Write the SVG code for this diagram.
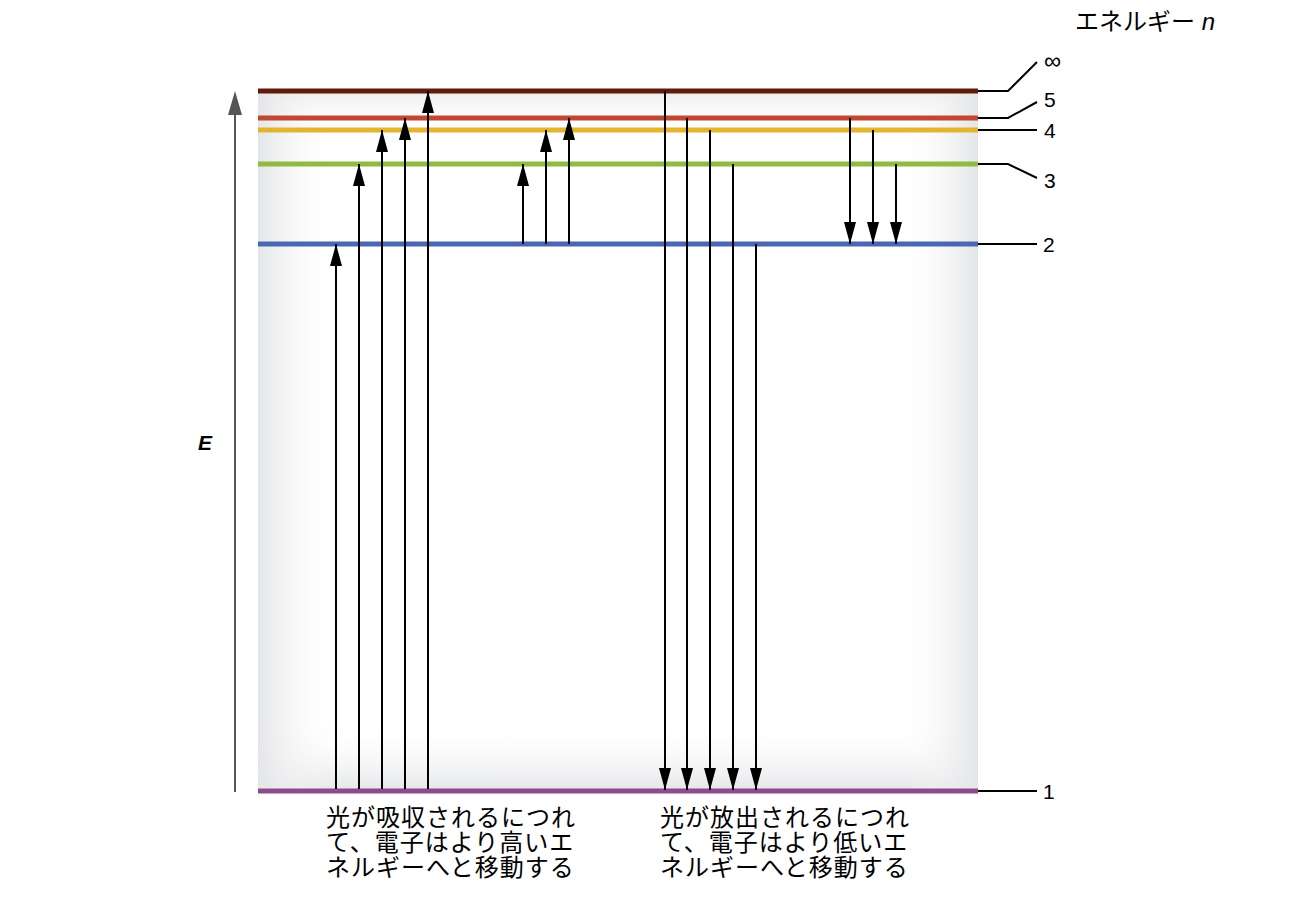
<svg xmlns="http://www.w3.org/2000/svg" width="1300" height="900" viewBox="0 0 1300 900">
<defs>
<linearGradient id="gh" x1="0" y1="0" x2="1" y2="0">
<stop offset="0" stop-color="#e4e5e7"/>
<stop offset="0.1" stop-color="#fafafa" stop-opacity="0"/>
<stop offset="0.9" stop-color="#fafafa" stop-opacity="0"/>
<stop offset="1" stop-color="#e4e5e7"/>
</linearGradient>
<linearGradient id="gv" x1="0" y1="0" x2="0" y2="1">
<stop offset="0" stop-color="#e8e9ea"/>
<stop offset="0.06" stop-color="#ffffff" stop-opacity="0"/>
<stop offset="0.9" stop-color="#ffffff" stop-opacity="0"/>
<stop offset="1" stop-color="#e4e5e7"/>
</linearGradient>
<marker id="ah" markerWidth="22" markerHeight="12" refX="22" refY="6" orient="auto" markerUnits="userSpaceOnUse" viewBox="0 0 22 12">
<path d="M0,0 L22,6 L0,12 Z" fill="#000"/>
</marker>
</defs>
<style>
.t{font-family:"Liberation Sans","Noto Sans CJK JP",sans-serif;fill:#000}
.lbl{font-size:21px}
.cap{font-size:24px;letter-spacing:1px}
.tick{stroke:#000;stroke-width:2;fill:none}
.ar{stroke:#000;stroke-width:2;marker-end:url(#ah)}
.lv{stroke-width:5}
</style>

<g id="panel">
<rect x="258" y="89" width="720" height="703" fill="#ffffff"/>
<rect x="258" y="89" width="720" height="703" fill="url(#gv)"/>
<rect x="258" y="89" width="720" height="703" fill="url(#gh)"/>
</g>

<g id="axis">
<line x1="235" y1="792" x2="235" y2="110" stroke="#555" stroke-width="2"/>
<path d="M235,91 L242,115 L228,115 Z" fill="#555"/>
<text class="t" x="205" y="450" font-size="21" font-weight="bold" font-style="italic" text-anchor="middle">E</text>
</g>

<g id="levels">
<g id="level-inf"><line class="lv" x1="258" y1="91" x2="978" y2="91" stroke="#5f1a08"/></g>
<g id="level-5"><line class="lv" x1="258" y1="118" x2="978" y2="118" stroke="#c1482f"/></g>
<g id="level-4"><line class="lv" x1="258" y1="130" x2="978" y2="130" stroke="#e2b52c"/></g>
<g id="level-3"><line class="lv" x1="258" y1="164" x2="978" y2="164" stroke="#8fbb41"/></g>
<g id="level-2"><line class="lv" x1="258" y1="244" x2="978" y2="244" stroke="#4a67b1"/></g>
<g id="level-1"><line class="lv" x1="258" y1="791" x2="978" y2="791" stroke="#8e4b8c"/></g>
</g>

<g id="connectors">
<line class="ar" x1="336" y1="789" x2="336" y2="244"/>
<line class="ar" x1="359" y1="789" x2="359" y2="164"/>
<line class="ar" x1="382" y1="789" x2="382" y2="130"/>
<line class="ar" x1="405" y1="789" x2="405" y2="118"/>
<line class="ar" x1="428" y1="789" x2="428" y2="91"/>
<line class="ar" x1="523" y1="244" x2="523" y2="164"/>
<line class="ar" x1="546" y1="244" x2="546" y2="130"/>
<line class="ar" x1="569" y1="244" x2="569" y2="118"/>
<line class="ar" x1="665" y1="91" x2="665" y2="790"/>
<line class="ar" x1="687" y1="118" x2="687" y2="790"/>
<line class="ar" x1="710" y1="130" x2="710" y2="790"/>
<line class="ar" x1="733" y1="164" x2="733" y2="790"/>
<line class="ar" x1="756" y1="244" x2="756" y2="790"/>
<line class="ar" x1="850" y1="118" x2="850" y2="244"/>
<line class="ar" x1="873" y1="130" x2="873" y2="244"/>
<line class="ar" x1="896" y1="164" x2="896" y2="244"/>
</g>

<g id="labels">
<text class="t" x="1075" y="30" font-size="24">エネルギー <tspan font-style="italic">n</tspan></text>
<polyline class="tick" points="978,91 1008,91 1037,62"/>
<text class="t" x="1044" y="69" font-size="24">∞</text>
<polyline class="tick" points="978,118 1008,118 1037,102"/>
<text class="t lbl" x="1044" y="107">5</text>
<polyline class="tick" points="978,130 1037,130"/>
<text class="t lbl" x="1044" y="138">4</text>
<polyline class="tick" points="978,164 1008,164 1037,178"/>
<text class="t lbl" x="1044" y="188">3</text>
<polyline class="tick" points="978,244 1037,244"/>
<text class="t lbl" x="1043" y="252">2</text>
<polyline class="tick" points="978,791 1037,791"/>
<text class="t lbl" x="1043" y="799">1</text>
</g>

<g id="caption-absorb">
<text class="t cap" x="326" y="826">光が吸収されるにつれ</text>
<text class="t cap" x="326" y="851">て、電子はより高いエ</text>
<text class="t cap" x="326" y="876">ネルギーへと移動する</text>
</g>
<g id="caption-emit">
<text class="t cap" x="660" y="826">光が放出されるにつれ</text>
<text class="t cap" x="660" y="851">て、電子はより低いエ</text>
<text class="t cap" x="660" y="876">ネルギーへと移動する</text>
</g>
</svg>
